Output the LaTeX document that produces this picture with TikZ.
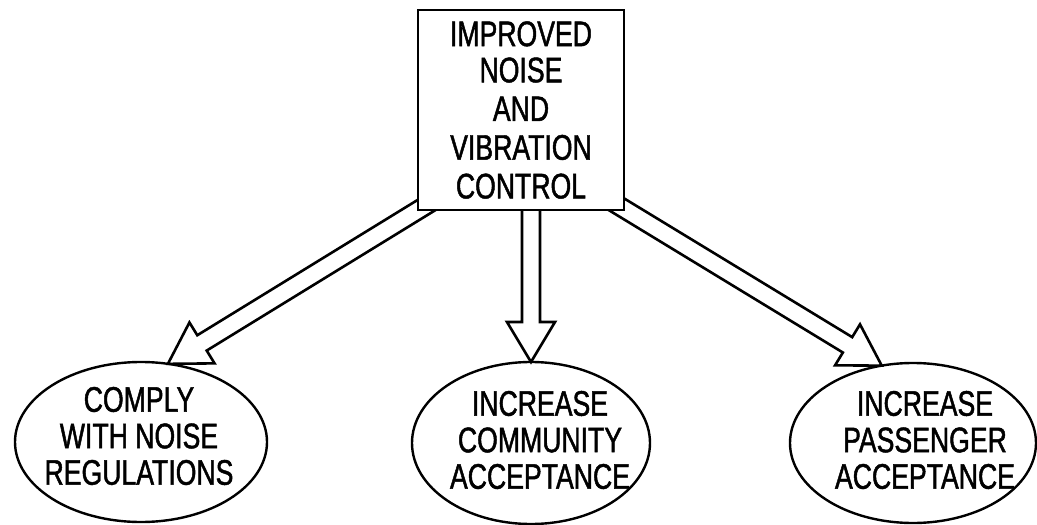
\documentclass[tikz,border=0pt]{standalone}
\usepackage{fontspec}
\setmainfont{Liberation Sans}[FakeStretch=0.75,FakeBold=1.3]
\usetikzlibrary{shapes.geometric,calc,backgrounds}
\tikzset{
  goal/.style={draw, ellipse, line width=2.4pt, inner sep=0pt, outer sep=0pt},
  lbl/.style={align=center, font=\fontsize{35.5}{36.5}\selectfont, inner sep=0pt},
  topbox/.style={draw, rectangle, line width=2.8pt, fill=white, minimum width=206pt,
    minimum height=200pt, inner sep=0pt, outer sep=0pt, align=center,
    font=\fontsize{35.5}{38.7}\selectfont},
  barrow/.style={draw, line width=2.6pt, line join=miter}
}
\newcommand\blockarrow[2]{%
  \path let \p1=(#1), \p2=(#2), \n1={atan2(\y2-\y1,\x2-\x1)},
    \n2={veclen(\x2-\x1,\y2-\y1)} in
    (\p1) ++(\n1+90:9pt) coordinate (ba) ++(\n1:{\n2-40pt}) coordinate (bb)
      ++(\n1+90:15pt) coordinate (bc)
    (\p1) ++(\n1-90:9pt) coordinate (bf) ++(\n1:{\n2-40pt}) coordinate (be)
      ++(\n1-90:15pt) coordinate (bd);
  \draw[barrow] (ba) -- (bb) -- (bc) -- (#2) -- (bd) -- (be) -- (bf);
}
\begin{document}
\begin{tikzpicture}[x=1pt,y=-1pt]
\useasboundingbox (0,0) rectangle (1037,525);
\node[topbox] (box) at (521,110) {\raisebox{-2.5pt}{IMPROVED}\\NOISE\\AND\\VIBRATION\\CONTROL};
\node[goal, minimum width=252pt, minimum height=160pt] (l) at (141,442) {};
\node[goal, minimum width=238pt, minimum height=162pt] (m) at (531,443) {};
\node[goal, minimum width=246pt, minimum height=160pt] (r) at (913,443) {};
\node[lbl] (lt) at (139,436) {COMPLY\\WITH NOISE\\REGULATIONS};
\node[lbl] (mt) at (540,440) {INCREASE\\COMMUNITY\\ACCEPTANCE};
\node[lbl] (rt) at (925,440) {INCREASE\\PASSENGER\\ACCEPTANCE};
\coordinate (ls) at ($(box.south west)+(33,-20)$);
\coordinate (ms) at ($(box.south)+(10,-20)$);
\coordinate (rs) at ($(box.south east)+(-31,-20)$);
\begin{pgfonlayer}{background}
\blockarrow{ls}{l.71.6}
\blockarrow{ms}{m.north}
\blockarrow{rs}{r.112.9}
\end{pgfonlayer}
\end{tikzpicture}
\end{document}
